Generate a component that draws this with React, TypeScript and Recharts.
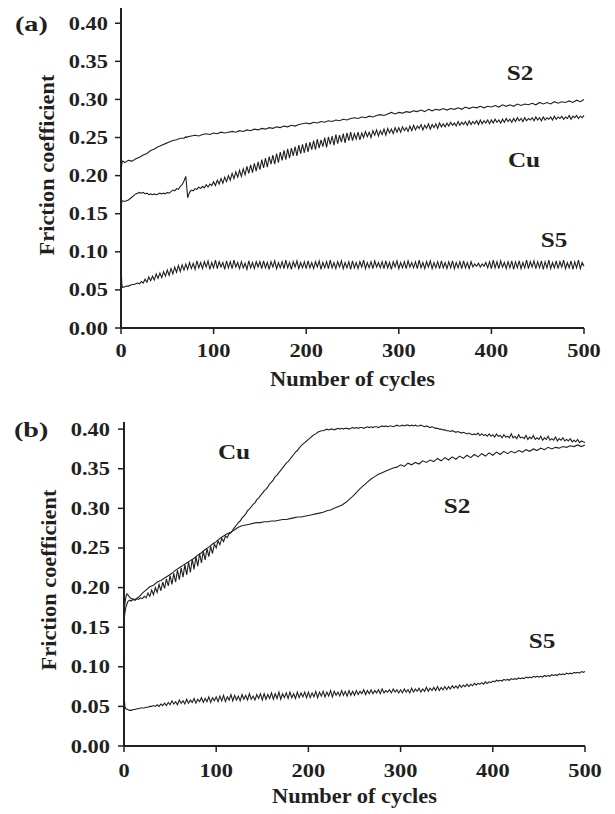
import React from "react";
import { LineChart, Line, XAxis, YAxis, Customized } from "recharts";

// sample positions (number of cycles)
// coarse grid for the smoother S2 curves
const cyclesA = [
  0, 1, 2, 4, 8, 12, 16, 20, 24, 28, 32, 36,
  40, 44, 48, 52, 56, 60, 64, 68, 70, 71, 72, 76,
  80, 84, 88, 92, 96, 100, 104, 108, 112, 116,
  120, 124, 128, 132, 136, 140, 144, 148, 152, 156,
  160, 164, 168, 172, 176, 180, 184, 188, 192, 196,
  200, 204, 208, 212, 216, 220, 224, 228, 232, 236,
  240, 244, 248, 252, 256, 260, 264, 268, 272, 276,
  280, 284, 288, 292, 296, 300, 304, 308, 312, 316,
  320, 324, 328, 332, 336, 340, 344, 348, 352, 356,
  360, 364, 368, 372, 376, 380, 384, 388, 392, 396,
  400, 404, 408, 412, 416, 420, 424, 428, 432, 436,
  440, 444, 448, 452, 456, 460, 464, 468, 472, 476,
  480, 484, 488, 492, 496, 500,
];

const cyclesB = [
  0, 1, 2, 3, 4, 6, 8, 12, 16, 20, 24, 28, 32, 36,
  40, 44, 48, 52, 56, 60, 64, 68, 72, 76,
  80, 84, 88, 92, 96, 100, 104, 108, 112, 116,
  120, 124, 128, 132, 136, 140, 144, 148, 152, 156,
  160, 164, 168, 172, 176, 180, 184, 188, 192, 196,
  200, 204, 208, 212, 216, 220, 224, 228, 232, 236,
  240, 244, 248, 252, 256, 260, 264, 268, 272, 276,
  280, 284, 288, 292, 296, 300, 304, 308, 312, 316,
  320, 324, 328, 332, 336, 340, 344, 348, 352, 356,
  360, 364, 368, 372, 376, 380, 384, 388, 392, 396,
  400, 404, 408, 412, 416, 420, 424, 428, 432, 436,
  440, 444, 448, 452, 456, 460, 464, 468, 472, 476,
  480, 484, 488, 492, 496, 500,
];

// fine grid for the noisy curves
const cyclesFine = [
  0, 1, 2, 4, 6, 8, 10, 12, 14, 16, 18, 20, 22, 24, 26, 28, 30, 32, 34, 36, 38, 40, 42, 44, 46, 48,
  50, 52, 54, 56, 58, 60, 62, 64, 66, 68, 70, 72, 74, 76, 78, 80, 82, 84, 86, 88, 90, 92, 94, 96, 98,
  100, 102, 104, 106, 108, 110, 112, 114, 116, 118, 120, 122, 124, 126, 128, 130, 132, 134, 136, 138, 140, 142, 144, 146, 148,
  150, 152, 154, 156, 158, 160, 162, 164, 166, 168, 170, 172, 174, 176, 178, 180, 182, 184, 186, 188, 190, 192, 194, 196, 198,
  200, 202, 204, 206, 208, 210, 212, 214, 216, 218, 220, 222, 224, 226, 228, 230, 232, 234, 236, 238, 240, 242, 244, 246, 248,
  250, 252, 254, 256, 258, 260, 262, 264, 266, 268, 270, 272, 274, 276, 278, 280, 282, 284, 286, 288, 290, 292, 294, 296, 298,
  300, 302, 304, 306, 308, 310, 312, 314, 316, 318, 320, 322, 324, 326, 328, 330, 332, 334, 336, 338, 340, 342, 344, 346, 348,
  350, 352, 354, 356, 358, 360, 362, 364, 366, 368, 370, 372, 374, 376, 378, 380, 382, 384, 386, 388, 390, 392, 394, 396, 398,
  400, 402, 404, 406, 408, 410, 412, 414, 416, 418, 420, 422, 424, 426, 428, 430, 432, 434, 436, 438, 440, 442, 444, 446, 448,
  450, 452, 454, 456, 458, 460, 462, 464, 466, 468, 470, 472, 474, 476, 478, 480, 482, 484, 486, 488, 490, 492, 494, 496, 498,
  500,
];

// panel (a)
const aS2 = [
  0.205, 0.217, 0.219, 0.217, 0.220, 0.219, 0.222, 0.224, 0.227, 0.229, 0.233, 0.235,
  0.238, 0.240, 0.242, 0.244, 0.246, 0.247, 0.249, 0.249, 0.251, 0.250, 0.251, 0.252,
  0.253, 0.252, 0.254, 0.255, 0.254, 0.256, 0.255, 0.257, 0.256, 0.257,
  0.258, 0.257, 0.259, 0.258, 0.260, 0.259, 0.261, 0.260, 0.262, 0.261,
  0.263, 0.262, 0.264, 0.263, 0.265, 0.264, 0.266, 0.265, 0.267, 0.268,
  0.269, 0.268, 0.270, 0.269, 0.271, 0.270, 0.272, 0.271, 0.273, 0.272,
  0.274, 0.273, 0.275, 0.276, 0.275, 0.277, 0.276, 0.278, 0.277, 0.279,
  0.280, 0.279, 0.281, 0.283, 0.281, 0.283, 0.282, 0.284, 0.283, 0.285,
  0.284, 0.286, 0.284, 0.287, 0.285, 0.287, 0.286, 0.288, 0.286, 0.288,
  0.287, 0.289, 0.287, 0.290, 0.288, 0.290, 0.289, 0.291, 0.289, 0.291,
  0.290, 0.292, 0.290, 0.293, 0.291, 0.293, 0.291, 0.294, 0.292, 0.294,
  0.293, 0.295, 0.293, 0.296, 0.294, 0.296, 0.294, 0.297, 0.295, 0.297,
  0.296, 0.298, 0.296, 0.299, 0.297, 0.300,
];

const aCu = [
  0.160, 0.166, 0.167, 0.166, 0.167, 0.168, 0.170, 0.172, 0.174, 0.176, 0.177, 0.178, 0.177, 0.178, 0.176, 0.177, 0.175, 0.176, 0.175, 0.176, 0.175, 0.176, 0.177, 0.176, 0.177, 0.176,
  0.178, 0.177, 0.179, 0.181, 0.180, 0.183, 0.182, 0.186, 0.188, 0.193, 0.199, 0.171, 0.178, 0.181, 0.180, 0.183, 0.182, 0.185, 0.183, 0.186, 0.184, 0.188, 0.185, 0.189, 0.187,
  0.192, 0.187, 0.194, 0.189, 0.196, 0.190, 0.198, 0.192, 0.200, 0.194, 0.203, 0.196, 0.205, 0.198, 0.207, 0.199, 0.209, 0.201, 0.212, 0.203, 0.214, 0.204, 0.216, 0.206, 0.218,
  0.208, 0.221, 0.210, 0.223, 0.211, 0.225, 0.215, 0.227, 0.215, 0.229, 0.217, 0.231, 0.220, 0.233, 0.221, 0.235, 0.223, 0.236, 0.226, 0.238, 0.226, 0.240, 0.229, 0.241, 0.230,
  0.243, 0.231, 0.244, 0.234, 0.246, 0.234, 0.248, 0.236, 0.247, 0.238, 0.250, 0.237, 0.251, 0.241, 0.252, 0.240, 0.254, 0.242, 0.253, 0.244, 0.255, 0.243, 0.256, 0.246, 0.257,
  0.246, 0.255, 0.248, 0.257, 0.247, 0.256, 0.250, 0.258, 0.251, 0.257, 0.250, 0.259, 0.253, 0.260, 0.252, 0.259, 0.254, 0.261, 0.253, 0.262, 0.256, 0.261, 0.255, 0.263, 0.257,
  0.263, 0.257, 0.264, 0.259, 0.263, 0.258, 0.265, 0.259, 0.266, 0.260, 0.265, 0.262, 0.267, 0.260, 0.266, 0.262, 0.268, 0.261, 0.267, 0.263, 0.268, 0.262, 0.269, 0.264, 0.268,
  0.264, 0.269, 0.265, 0.270, 0.266, 0.269, 0.265, 0.271, 0.266, 0.270, 0.267, 0.271, 0.266, 0.272, 0.267, 0.271, 0.268, 0.272, 0.267, 0.273, 0.268, 0.272, 0.269, 0.273, 0.268,
  0.273, 0.269, 0.274, 0.270, 0.273, 0.269, 0.274, 0.270, 0.275, 0.271, 0.274, 0.270, 0.275, 0.271, 0.276, 0.272, 0.275, 0.271, 0.276, 0.272, 0.275, 0.273, 0.276, 0.272, 0.277,
  0.273, 0.276, 0.272, 0.277, 0.273, 0.276, 0.274, 0.277, 0.273, 0.278, 0.274, 0.277, 0.275, 0.278, 0.274, 0.277, 0.275, 0.279, 0.274, 0.278, 0.276, 0.279, 0.275, 0.278, 0.276,
  0.279,
];

const aS5 = [
  0.080, 0.056, 0.053, 0.054, 0.055, 0.055, 0.056, 0.057, 0.057, 0.058, 0.059, 0.058, 0.061, 0.059, 0.064, 0.060, 0.067, 0.062, 0.068, 0.063, 0.071, 0.065, 0.072, 0.066, 0.074, 0.068,
  0.076, 0.069, 0.078, 0.071, 0.080, 0.073, 0.082, 0.074, 0.083, 0.076, 0.084, 0.077, 0.086, 0.078, 0.085, 0.077, 0.088, 0.079, 0.086, 0.078, 0.087, 0.080, 0.088, 0.077, 0.086,
  0.079, 0.089, 0.078, 0.087, 0.080, 0.086, 0.077, 0.088, 0.079, 0.087, 0.078, 0.089, 0.080, 0.086, 0.078, 0.087, 0.079, 0.085, 0.077, 0.088, 0.079, 0.086, 0.078, 0.087, 0.080,
  0.087, 0.078, 0.088, 0.079, 0.086, 0.077, 0.087, 0.080, 0.088, 0.078, 0.086, 0.079, 0.087, 0.078, 0.089, 0.079, 0.086, 0.077, 0.087, 0.080, 0.088, 0.078, 0.086, 0.079, 0.087,
  0.078, 0.088, 0.079, 0.086, 0.078, 0.087, 0.080, 0.088, 0.077, 0.086, 0.079, 0.087, 0.078, 0.089, 0.079, 0.086, 0.078, 0.087, 0.080, 0.088, 0.078, 0.086, 0.079, 0.087, 0.077,
  0.088, 0.079, 0.086, 0.078, 0.087, 0.080, 0.089, 0.078, 0.086, 0.079, 0.087, 0.078, 0.088, 0.080, 0.086, 0.079, 0.087, 0.078, 0.088, 0.079, 0.086, 0.077, 0.087, 0.080, 0.088,
  0.078, 0.086, 0.079, 0.087, 0.078, 0.088, 0.080, 0.086, 0.079, 0.087, 0.078, 0.089, 0.079, 0.086, 0.078, 0.087, 0.080, 0.088, 0.078, 0.086, 0.079, 0.087, 0.078, 0.088, 0.079,
  0.086, 0.078, 0.087, 0.079, 0.088, 0.078, 0.086, 0.079, 0.087, 0.078, 0.088, 0.079, 0.086, 0.078, 0.087, 0.080, 0.084, 0.081, 0.085, 0.080, 0.084, 0.081, 0.086, 0.079, 0.087,
  0.078, 0.089, 0.079, 0.087, 0.078, 0.088, 0.080, 0.086, 0.078, 0.087, 0.079, 0.088, 0.077, 0.087, 0.079, 0.088, 0.078, 0.086, 0.079, 0.089, 0.078, 0.087, 0.080, 0.088, 0.078,
  0.087, 0.079, 0.088, 0.077, 0.087, 0.079, 0.089, 0.078, 0.086, 0.079, 0.088, 0.078, 0.087, 0.080, 0.089, 0.078, 0.086, 0.079, 0.088, 0.077, 0.087, 0.079, 0.089, 0.078, 0.086,
  0.081,
];

// panel (b)
const bCu = [
  0.160, 0.168, 0.175, 0.182, 0.184, 0.183, 0.185, 0.184, 0.186, 0.185, 0.187, 0.186, 0.189, 0.187, 0.193, 0.189, 0.197, 0.191, 0.200, 0.194, 0.204, 0.196, 0.207, 0.199, 0.211, 0.202,
  0.215, 0.204, 0.218, 0.207, 0.222, 0.210, 0.225, 0.213, 0.229, 0.216, 0.232, 0.219, 0.236, 0.223, 0.239, 0.227, 0.243, 0.231, 0.246, 0.235, 0.249, 0.239, 0.252, 0.243, 0.255,
  0.250, 0.259, 0.254, 0.262, 0.258, 0.265, 0.263, 0.268, 0.269, 0.273, 0.276, 0.279, 0.282, 0.284, 0.288, 0.290, 0.293, 0.297, 0.299, 0.302, 0.305, 0.307, 0.311, 0.313, 0.316,
  0.319, 0.322, 0.324, 0.327, 0.331, 0.333, 0.336, 0.340, 0.342, 0.345, 0.348, 0.351, 0.354, 0.357, 0.359, 0.362, 0.365, 0.368, 0.371, 0.373, 0.376, 0.379, 0.381, 0.383, 0.385,
  0.387, 0.389, 0.391, 0.393, 0.394, 0.396, 0.397, 0.398, 0.398, 0.399, 0.400, 0.399, 0.400, 0.400, 0.399, 0.400, 0.401, 0.400, 0.401, 0.400, 0.401, 0.401, 0.400, 0.401, 0.402,
  0.401, 0.402, 0.401, 0.402, 0.402, 0.401, 0.402, 0.403, 0.402, 0.403, 0.402, 0.403, 0.403, 0.402, 0.403, 0.404, 0.403, 0.404, 0.403, 0.404, 0.404, 0.403, 0.404, 0.405, 0.404,
  0.404, 0.405, 0.404, 0.405, 0.405, 0.404, 0.405, 0.404, 0.405, 0.404, 0.404, 0.405, 0.404, 0.403, 0.404, 0.403, 0.402, 0.403, 0.402, 0.401, 0.401, 0.400, 0.400, 0.399, 0.399,
  0.398, 0.398, 0.397, 0.398, 0.397, 0.396, 0.397, 0.396, 0.395, 0.396, 0.395, 0.394, 0.395, 0.394, 0.393, 0.394, 0.393, 0.395, 0.392, 0.394, 0.392, 0.393, 0.391, 0.394, 0.391,
  0.393, 0.390, 0.394, 0.391, 0.392, 0.389, 0.393, 0.390, 0.391, 0.389, 0.394, 0.389, 0.391, 0.388, 0.393, 0.389, 0.390, 0.388, 0.392, 0.387, 0.390, 0.388, 0.392, 0.387, 0.389,
  0.387, 0.391, 0.386, 0.389, 0.387, 0.391, 0.386, 0.388, 0.386, 0.390, 0.385, 0.388, 0.386, 0.389, 0.385, 0.387, 0.385, 0.388, 0.384, 0.386, 0.384, 0.387, 0.383, 0.385, 0.384,
  0.383,
];

const bS2 = [
  0.168, 0.180, 0.188, 0.192, 0.191, 0.188, 0.186, 0.185, 0.188, 0.193, 0.197, 0.201, 0.203, 0.207,
  0.209, 0.212, 0.215, 0.218, 0.222, 0.225, 0.228, 0.231, 0.234, 0.237,
  0.241, 0.244, 0.248, 0.251, 0.255, 0.258, 0.262, 0.265, 0.268, 0.270,
  0.273, 0.276, 0.278, 0.279, 0.280, 0.281, 0.282, 0.282, 0.283, 0.283,
  0.284, 0.284, 0.285, 0.286, 0.286, 0.287, 0.288, 0.289, 0.289, 0.290,
  0.291, 0.292, 0.293, 0.294, 0.295, 0.297, 0.298, 0.300, 0.302, 0.304,
  0.307, 0.311, 0.315, 0.320, 0.325, 0.329, 0.333, 0.337, 0.340, 0.343,
  0.345, 0.347, 0.349, 0.351, 0.352, 0.355, 0.353, 0.357, 0.355, 0.358,
  0.356, 0.360, 0.358, 0.361, 0.359, 0.363, 0.360, 0.364, 0.361, 0.365,
  0.362, 0.366, 0.363, 0.367, 0.364, 0.368, 0.365, 0.369, 0.366, 0.370,
  0.367, 0.371, 0.368, 0.372, 0.369, 0.372, 0.370, 0.373, 0.371, 0.374,
  0.372, 0.375, 0.373, 0.376, 0.374, 0.377, 0.375, 0.377, 0.376, 0.378,
  0.377, 0.379, 0.378, 0.380, 0.378, 0.380,
];

const bS5 = [
  0.065, 0.050, 0.047, 0.046, 0.045, 0.045, 0.046, 0.046, 0.047, 0.047, 0.048, 0.048, 0.048, 0.049, 0.049, 0.050, 0.050, 0.051, 0.050, 0.052, 0.050, 0.053, 0.051, 0.054, 0.051, 0.055,
  0.052, 0.057, 0.053, 0.056, 0.052, 0.058, 0.054, 0.057, 0.053, 0.059, 0.054, 0.058, 0.055, 0.060, 0.054, 0.059, 0.056, 0.061, 0.055, 0.060, 0.056, 0.062, 0.055, 0.061, 0.057,
  0.062, 0.056, 0.063, 0.057, 0.064, 0.056, 0.062, 0.058, 0.065, 0.057, 0.064, 0.058, 0.063, 0.057, 0.065, 0.059, 0.064, 0.058, 0.066, 0.059, 0.063, 0.058, 0.065, 0.060, 0.066,
  0.058, 0.066, 0.059, 0.065, 0.060, 0.067, 0.059, 0.066, 0.060, 0.068, 0.059, 0.066, 0.061, 0.067, 0.060, 0.068, 0.061, 0.066, 0.060, 0.068, 0.061, 0.067, 0.062, 0.068, 0.061,
  0.068, 0.061, 0.067, 0.062, 0.069, 0.061, 0.068, 0.063, 0.069, 0.062, 0.068, 0.063, 0.070, 0.062, 0.069, 0.064, 0.068, 0.063, 0.070, 0.064, 0.069, 0.063, 0.070, 0.064, 0.069,
  0.064, 0.070, 0.065, 0.069, 0.066, 0.071, 0.065, 0.070, 0.066, 0.071, 0.066, 0.070, 0.067, 0.071, 0.066, 0.072, 0.067, 0.070, 0.068, 0.071, 0.067, 0.072, 0.068, 0.071, 0.067,
  0.071, 0.067, 0.072, 0.068, 0.071, 0.067, 0.073, 0.068, 0.072, 0.069, 0.073, 0.068, 0.072, 0.069, 0.074, 0.069, 0.073, 0.070, 0.074, 0.070, 0.075, 0.070, 0.074, 0.071, 0.075,
  0.071, 0.075, 0.072, 0.076, 0.073, 0.076, 0.073, 0.077, 0.074, 0.077, 0.075, 0.078, 0.075, 0.078, 0.076, 0.079, 0.077, 0.079, 0.078, 0.080, 0.078, 0.081, 0.079, 0.081, 0.080,
  0.082, 0.081, 0.083, 0.082, 0.083, 0.082, 0.084, 0.083, 0.084, 0.083, 0.085, 0.084, 0.085, 0.084, 0.086, 0.085, 0.086, 0.085, 0.087, 0.086, 0.087, 0.086, 0.088, 0.087, 0.088,
  0.087, 0.088, 0.087, 0.089, 0.088, 0.089, 0.088, 0.090, 0.089, 0.090, 0.089, 0.091, 0.090, 0.091, 0.090, 0.092, 0.091, 0.092, 0.091, 0.093, 0.092, 0.093, 0.092, 0.094, 0.093,
  0.094,
];

const xTicks = [0, 100, 200, 300, 400, 500];
const yTicks = [0, 0.05, 0.1, 0.15, 0.2, 0.25, 0.3, 0.35, 0.4];

const toPoints = (xs: number[], ys: number[]) => xs.map((c, i) => ({ cycle: c, v: ys[i] }));

const seriesA = [toPoints(cyclesA, aS2), toPoints(cyclesFine, aCu), toPoints(cyclesFine, aS5)];
const seriesB = [toPoints(cyclesFine, bCu), toPoints(cyclesB, bS2), toPoints(cyclesFine, bS5)];

const INK = "#231f20";
const FONT = "'Liberation Serif', 'Times New Roman', serif";

// times-like bold text, a bit wider than the stock font
function SText({ x, y, size, sx = 1.15, anchor = "middle", rotate = 0, children }: any) {
  const t = `translate(${x},${y})${rotate ? ` rotate(${rotate})` : ""} scale(${sx},1)`;
  return (
    <text transform={t} textAnchor={anchor} fontFamily={FONT} fontWeight="bold" fontSize={size} fill={INK}>
      {children}
    </text>
  );
}

const YTick = (props: any) => (
  <SText x={props.x} y={props.y + 6.5} size={19} sx={1.18} anchor="end">
    {Number(props.payload.value).toFixed(2)}
  </SText>
);

const makeXTick = (dy: number) => (props: any) => (
  <SText x={props.x} y={props.y + dy} size={19} sx={1.18}>
    {props.payload.value}
  </SText>
);

const axisStyle = { stroke: INK, strokeWidth: 2 };
const tickStyle = { stroke: INK, strokeWidth: 1.5 };
const frameStyle = { stroke: INK, strokeWidth: 1.5 };

function Panel({ series, top, height, margin, yWidth, xHeight, yMax, tickDy, tickGap, texts }: any) {
  return (
    <div style={{ position: "absolute", left: 0, top, width: 615, height }}>
      <LineChart width={615} height={height} margin={margin}>
        <XAxis
          dataKey="cycle"
          type="number"
          domain={[0, 500]}
          ticks={xTicks}
          height={xHeight}
          axisLine={axisStyle}
          tickLine={tickStyle}
          tickSize={6}
          tickMargin={2}
          tick={makeXTick(tickDy)}
          allowDuplicatedCategory={false}
        />
        <XAxis
          xAxisId="top"
          orientation="top"
          dataKey="cycle"
          type="number"
          domain={[0, 500]}
          height={0}
          tick={false}
          tickLine={false}
          axisLine={frameStyle}
        />
        <YAxis
          type="number"
          domain={[0, yMax]}
          ticks={yTicks}
          width={yWidth}
          axisLine={axisStyle}
          tickLine={tickStyle}
          tickSize={6}
          tickMargin={tickGap}
          tick={YTick}
          allowDataOverflow
        />
        <YAxis
          yAxisId="right"
          orientation="right"
          type="number"
          domain={[0, yMax]}
          width={0}
          tick={false}
          tickLine={false}
          axisLine={frameStyle}
        />
        {series.map((pts: any, i: number) => (
          <Line
            key={i}
            data={pts}
            dataKey="v"
            stroke={INK}
            strokeWidth={1.1}
            dot={false}
            type="linear"
            isAnimationActive={false}
          />
        ))}
        <Customized component={texts} />
      </LineChart>
    </div>
  );
}

const TextsA = () => (
  <g>
    <SText x={15} y={31} size={22} sx={1.28} anchor="start">(a)</SText>
    <SText x={54} y={165} size={20} sx={1.12} rotate={-90}>Friction coefficient</SText>
    <SText x={352.5} y={386} size={20} sx={1.12}>Number of cycles</SText>
    <SText x={520} y={80} size={21} sx={1.2}>S2</SText>
    <SText x={524} y={167} size={21} sx={1.2}>Cu</SText>
    <SText x={554} y={247} size={21} sx={1.2}>S5</SText>
  </g>
);

const TextsB = () => (
  <g>
    <SText x={14} y={37} size={22} sx={1.28} anchor="start">(b)</SText>
    <SText x={56} y={180} size={20} sx={1.12} rotate={-90}>Friction coefficient</SText>
    <SText x={354.5} y={403} size={20} sx={1.12}>Number of cycles</SText>
    <SText x={234} y={59} size={21} sx={1.2}>Cu</SText>
    <SText x={457} y={113} size={21} sx={1.2}>S2</SText>
    <SText x={542} y={248} size={21} sx={1.2}>S5</SText>
  </g>
);

export default function App() {
  return (
    <div style={{ position: "absolute", left: 0, top: 0, width: 615, height: 814, background: "#fff" }}>
      <Panel
        series={seriesA}
        top={0}
        height={400}
        margin={{ top: 8, right: 31, left: 0, bottom: 0 }}
        yWidth={121}
        xHeight={72}
        yMax={0.42}
        tickDy={21}
        tickGap={7}
        texts={TextsA}
      />
      <Panel
        series={seriesB}
        top={400}
        height={414}
        margin={{ top: 22, right: 30, left: 0, bottom: 0 }}
        yWidth={124}
        xHeight={68}
        yMax={0.409}
        tickDy={23}
        tickGap={8}
        texts={TextsB}
      />
    </div>
  );
}
